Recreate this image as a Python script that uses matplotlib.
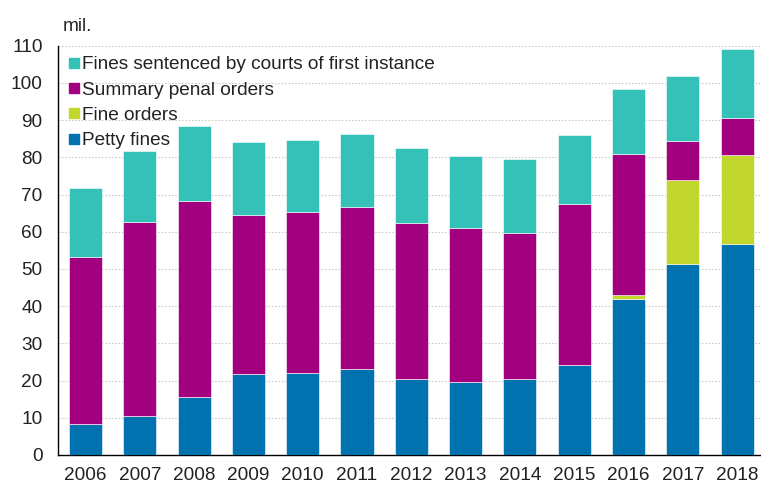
import matplotlib
matplotlib.use("Agg")
import matplotlib.pyplot as plt
from matplotlib.lines import Line2D
import numpy as np

plt.rcParams['font.family'] = ['Liberation Sans', 'DejaVu Sans']

years = ['2006', '2007', '2008', '2009', '2010', '2011', '2012', '2013', '2014',
         '2015', '2016', '2017', '2018']
petty_fines = [8.3, 10.5, 15.7, 21.8, 22.1, 23.0, 20.3, 19.6, 20.3, 24.3, 42.0, 51.4, 56.6]
fine_orders = [0, 0, 0, 0, 0, 0, 0, 0, 0, 0, 0.9, 22.4, 24.1]
summary_penal = [44.8, 52.1, 52.6, 42.6, 43.1, 43.6, 42.0, 41.3, 39.4, 43.1, 37.9, 10.5, 9.9]
courts = [18.6, 19.0, 20.2, 19.8, 19.4, 19.7, 20.1, 19.4, 19.8, 18.5, 17.6, 17.5, 18.6]

series = [
    ('Petty fines', petty_fines, '#0072B0'),
    ('Fine orders', fine_orders, '#C1D72E'),
    ('Summary penal orders', summary_penal, '#A3007F'),
    ('Fines sentenced by courts of first instance', courts, '#33C1B8'),
]

FS = 13.7

fig = plt.figure(figsize=(7.61, 4.86), dpi=100)
ax = fig.add_axes([0.0762, 0.0638, 0.9238, 0.842])

x = np.arange(len(years))
bottom = np.zeros(len(years))
for name, vals, col in series:
    v = np.array(vals)
    ax.bar(x, v, 0.61, bottom=bottom, color=col, edgecolor='white', linewidth=0.4, zorder=3)
    bottom += v

ax.set_xlim(-0.506, 12.44)
ax.set_ylim(0, 110)
ax.set_yticks(range(0, 111, 10))
ax.set_xticks(x)
ax.set_xticklabels(years)
ax.yaxis.grid(True, color='#CCCCCC', linestyle=(0, (1.5, 1.5)), linewidth=0.8, zorder=0)
ax.set_axisbelow(True)
for s in ['top', 'right']:
    ax.spines[s].set_visible(False)
ax.spines['left'].set_color('black')
ax.spines['bottom'].set_color('black')
ax.spines['left'].set_linewidth(1.0)
ax.spines['bottom'].set_linewidth(1.0)
ax.tick_params(axis='both', length=0, labelsize=FS, colors='#222222')
ax.tick_params(axis='x', pad=9)
ax.tick_params(axis='y', pad=11)

fig.text(0.083, 0.945, 'mil.', fontsize=FS, color='#222222', ha='left', va='center')

handles = [Line2D([0], [0], marker='s', linestyle='none', markersize=7,
                  markerfacecolor=col, markeredgecolor=col) for _, _, col in series[::-1]]
labels = [name for name, _, _ in series[::-1]]
leg = ax.legend(handles, labels, loc='upper left', bbox_to_anchor=(0.014, 0.975),
                frameon=False, fontsize=FS, handletextpad=0.15, labelspacing=0.42,
                borderaxespad=0.0, handlelength=0.6, borderpad=0.0)
for t in leg.get_texts():
    t.set_color('#222222')

fig.savefig('out.png', dpi=100)
